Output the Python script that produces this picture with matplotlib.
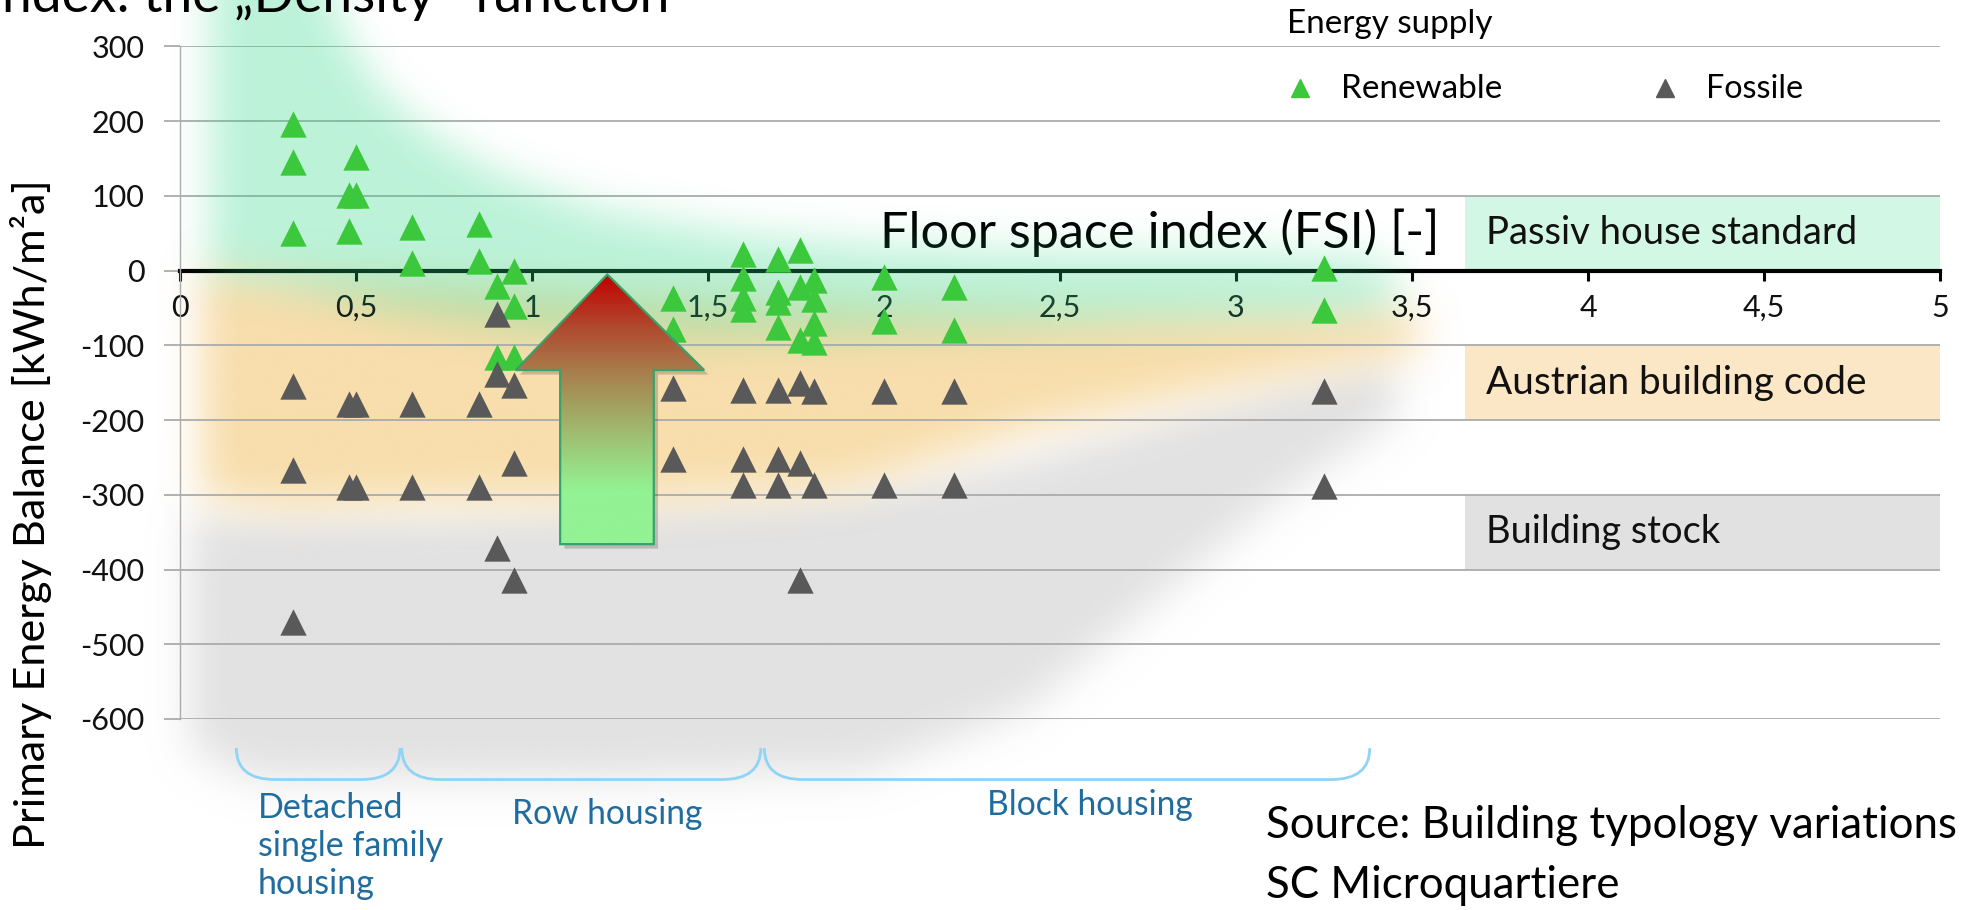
import numpy as np
import matplotlib
matplotlib.use('Agg')
import matplotlib.pyplot as plt
from matplotlib.path import Path
from matplotlib.patches import Polygon, Rectangle, PathPatch
from matplotlib.colors import LinearSegmentedColormap
from matplotlib.lines import Line2D

plt.rcParams['font.family'] = ['Lato', 'DejaVu Sans']
plt.rcParams['axes.unicode_minus'] = False

# Floor space index (FSI) and primary energy balance [kWh/m²a] per variant
renew_fsi = [0.32, 0.32, 0.32, 0.48, 0.48, 0.5, 0.5, 0.66, 0.66, 0.85, 0.85,
             0.9, 0.9, 0.95, 0.95, 0.95, 1.4, 1.4, 1.6, 1.6, 1.6, 1.6,
             1.7, 1.7, 1.7, 1.7, 1.76, 1.76, 1.76, 1.8, 1.8, 1.8, 1.8,
             2.0, 2.0, 2.2, 2.2, 3.25, 3.25]
renew_peb = [196, 145, 51, 101, 53, 152, 101, 59, 10, 62, 13,
             -20, -116, -1, -47, -116, -37, -78, 22, -10, -36, -51,
             15, -28, -42, -75, 27, -22, -93, -12, -38, -70, -96,
             -8, -68, -22, -79, 3, -52]

fossil_fsi = [0.32, 0.32, 0.32, 0.48, 0.48, 0.5, 0.5, 0.66, 0.66, 0.85, 0.85,
              0.9, 0.9, 0.9, 0.95, 0.95, 0.95, 1.4, 1.4, 1.6, 1.6, 1.6,
              1.7, 1.7, 1.7, 1.76, 1.76, 1.76, 1.8, 1.8, 2.0, 2.0,
              2.2, 2.2, 3.25, 3.25]
fossil_peb = [-155, -267, -470, -179, -289, -179, -289, -179, -289, -179, -289,
              -58, -138, -371, -153, -258, -414, -157, -252, -160, -252, -287,
              -160, -252, -287, -151, -258, -414, -161, -287, -161, -287,
              -161, -287, -161, -288]

supply_labels = ['Renewable', 'Fossile']

x_ticks = [0, 0.5, 1, 1.5, 2, 2.5, 3, 3.5, 4, 4.5, 5]
x_tick_labels = ['0', '0,5', '1', '1,5', '2', '2,5', '3', '3,5', '4', '4,5', '5']
y_ticks = [300, 200, 100, 0, -100, -200, -300, -400, -500, -600]

# reference levels shown as bands on the right
band_labels = ['Passiv house standard', 'Austrian building code', 'Building stock']
band_top = [100, -100, -300]
band_bottom = [0, -200, -400]
band_colors = ['#D2F7E4', '#FBE6C5', '#E1E1E1']

typology_labels = ['Detached\nsingle family\nhousing', 'Row housing', 'Block housing']
typology_start = [0.16, 0.63, 1.66]
typology_end = [0.625, 1.65, 3.38]

GREEN = '#3CC83C'
GRAY = '#595959'

W, H = 1972, 910
fig = plt.figure(figsize=(W / 100, H / 100), dpi=100)
ax = fig.add_axes([180 / W, 1 - 719 / H, 1760 / W, 672.5 / H])


def box_blur(a, r):
    for axis in (0, 1):
        pad = [(0, 0), (0, 0)]
        pad[axis] = (r + 1, r)
        c = np.cumsum(np.pad(a, pad, mode='edge'), axis=axis)
        if axis == 0:
            a = (c[2 * r + 1:] - c[:-2 * r - 1]) / (2 * r + 1)
        else:
            a = (c[:, 2 * r + 1:] - c[:, :-2 * r - 1]) / (2 * r + 1)
    return a


def blob(poly, rgb, alpha, zorder, r=6):
    x0, x1, y0, y1 = -0.45, 5.3, -780, 460
    nx, ny = 700, 300
    X, Y = np.meshgrid(np.linspace(x0, x1, nx), np.linspace(y0, y1, ny))
    inside = Path(poly).contains_points(np.c_[X.ravel(), Y.ravel()])
    m = inside.reshape(ny, nx).astype(float)
    for _ in range(3):
        m = box_blur(m, r)
    img = np.zeros((ny, nx, 4))
    img[..., :3] = np.array(rgb) / 255
    img[..., 3] = m * alpha
    ax.imshow(img, extent=(x0, x1, y0, y1), origin='lower', aspect='auto',
              zorder=zorder, clip_on=False, interpolation='bilinear')


# density areas behind the points
gray_area = [(0.02, -330), (0.6, -332), (1.3, -318), (1.9, -300), (2.4, -255),
             (2.9, -185), (3.42, -118), (3.47, -190), (3.08, -320), (2.75, -450),
             (2.4, -590), (1.95, -672), (1.2, -682), (0.2, -682), (0.02, -640)]
orange_area = [(0.06, 0), (0.6, -15), (1.5, -40), (2.5, -55), (3.52, -55),
               (3.52, -108), (3.0, -155), (2.4, -215), (1.9, -292), (1.4, -308),
               (0.8, -308), (0.3, -320), (0.06, -305)]
green_area = [(0.08, 460), (0.38, 460), (0.45, 330), (0.55, 250), (0.7, 185),
              (0.9, 130), (1.2, 80), (1.6, 48), (2.0, 32), (2.6, 22), (3.3, 20),
              (3.47, 0), (3.42, -55), (3.0, -65), (2.2, -80), (1.5, -92),
              (1.0, -80), (0.6, -55), (0.3, -20), (0.08, -5)]
blob(gray_area, (226, 226, 226), 1.0, 0.2)
blob(orange_area, (248, 222, 172), 1.0, 0.25)
blob(green_area, (38, 215, 132), 0.31, 1.5)

# reference bands on the right
for lab, top, bot, col in zip(band_labels, band_top, band_bottom, band_colors):
    ax.add_patch(Rectangle((3.65, bot), 5 - 3.65, top - bot, facecolor=col,
                           edgecolor='none', zorder=0.3))
band_texts = [ax.text(3.71, (t + b) / 2, lab, ha='left', va='center',
                      fontsize=24, color='#111111', zorder=2)
              for lab, t, b in zip(band_labels, band_top, band_bottom)]

# points
ax.scatter(renew_fsi, renew_peb, marker='^', s=360, color=GREEN,
           linewidths=0, zorder=3)
ax.scatter(fossil_fsi, fossil_peb, marker='^', s=360, color=GRAY,
           linewidths=0, zorder=3.1)

# improvement arrow with red -> green gradient
arrow = [(1.08, -366), (1.08, -133), (0.954, -133), (1.214, -5),
         (1.489, -133), (1.346, -133), (1.346, -366)]
shadow = Polygon([(x + 0.012, y - 6) for x, y in arrow], closed=True,
                 facecolor='#000000', alpha=0.18, edgecolor='none', zorder=4.8)
ax.add_patch(shadow)
cmap = LinearSegmentedColormap.from_list('arrow', [
    (0.0, '#93F293'), (0.2, '#93F293'), (0.42, '#A0BA6E'),
    (0.62, '#A7834F'), (0.8, '#B04B30'), (1.0, '#C20000')])
grad = np.linspace(0, 1, 256).reshape(-1, 1)
im = ax.imshow(grad, cmap=cmap, extent=(0.95, 1.49, -366, -5), origin='lower',
               aspect='auto', zorder=5, interpolation='bilinear')
edge = Polygon(arrow, closed=True, facecolor='none', edgecolor='#35A36A',
               linewidth=1.6, zorder=6)
ax.add_patch(edge)
im.set_clip_path(edge)

# axes styling
ax.set_xlim(0, 5)
ax.set_ylim(-600, 300)
ax.set_axisbelow(True)
ax.set_xticks(x_ticks)
ax.set_xticklabels(x_tick_labels)
ax.set_yticks(y_ticks)
ax.grid(axis='y', color='#ABABAB', linewidth=1.3)
for s in ('top', 'right'):
    ax.spines[s].set_visible(False)
ax.spines['left'].set_color('#ABABAB')
ax.spines['left'].set_linewidth(1.0)
ax.spines['bottom'].set_position(('data', 0))
ax.spines['bottom'].set_linewidth(3.0)
ax.spines['bottom'].set_color('black')
ax.spines['bottom'].set_zorder(0.6)
ax.tick_params(axis='x', direction='out', length=7, width=2.2, color='black',
               labelsize=22, pad=10, labelcolor='#111111')
ax.tick_params(axis='y', direction='out', length=11.5, width=1.3,
               color='#ABABAB', labelsize=22, pad=14, labelcolor='#111111')

xl = ax.set_xlabel('Floor space index (FSI) [-]', fontsize=34, va='center')
ax.xaxis.set_label_coords(2.784 / 5, (719 - 233) / 672.5)
yl = fig.text(31 / W, 1 - 514 / H, 'Primary Energy Balance [kWh/m²a]',
              rotation=90, ha='center', va='center', fontsize=30)

# cut-off slide title at the very top
title = fig.text(2 / W, 1 - 12 / H, 'ndex: the „Density“-function',
                 ha='left', va='baseline', fontsize=38)

# legend
handles = [Line2D([], [], ls='none', marker='^', color=c, markersize=13)
           for c in (GREEN, GRAY)]
leg = ax.legend(handles, supply_labels, ncol=2, frameon=False,
                loc='center left', bbox_to_anchor=(1288 / W, 1 - 89 / H),
                bbox_transform=fig.transFigure, borderpad=0, borderaxespad=0,
                handlelength=0.8, handletextpad=1.0, columnspacing=5.2,
                fontsize=21)
sup = fig.text(1287 / W, 1 - 24 / H, 'Energy supply', ha='left', va='center',
               fontsize=21)

# typology braces under the axis
BRACE = '#8FD3F7'
for a, b in zip(typology_start, typology_end):
    verts = [(a, -639), (a, -681), (a + 0.11, -681), (b - 0.11, -681),
             (b, -681), (b, -639)]
    codes = [Path.MOVETO, Path.CURVE3, Path.CURVE3, Path.LINETO,
             Path.CURVE3, Path.CURVE3]
    ax.add_patch(PathPatch(Path(verts, codes), facecolor='none',
                           edgecolor=BRACE, linewidth=2, clip_on=False))
TEAL = '#1F6C9E'
t_det = fig.text(258 / W, 1 - 846 / H, typology_labels[0], ha='left',
                 va='center', color=TEAL, fontsize=22, linespacing=1.25)
t_row = fig.text(607 / W, 1 - 814 / H, typology_labels[1], ha='center',
                 va='center', color=TEAL, fontsize=22)
t_blk = fig.text(1090 / W, 1 - 805 / H, typology_labels[2], ha='center',
                 va='center', color=TEAL, fontsize=22)

src1 = fig.text(1266 / W, 1 - 826 / H, 'Source: Building typology variations',
                ha='left', va='center', fontsize=30)
src2 = fig.text(1266 / W, 1 - 886 / H, 'SC Microquartiere',
                ha='left', va='center', fontsize=30)

# scale texts so their widths match the original slide
fig.canvas.draw()
rend = fig.canvas.get_renderer()


def fit(t, px):
    bb = t.get_window_extent(rend)
    t.set_fontsize(t.get_fontsize() * px / max(bb.width, bb.height))


fit(xl, 560)
fit(yl, 669)
fit(title, 668)
fit(sup, 205)
fit(src1, 690)
src2.set_fontsize(src1.get_fontsize())
for t, px in zip(band_texts, [372, 380, 234]):
    fit(t, px)
fit(t_det, 185)
fit(t_row, 190)
fit(t_blk, 205)
for t, px in zip(leg.get_texts(), [161, 97]):
    fit(t, px)

fig.savefig('out.png', dpi=100)
